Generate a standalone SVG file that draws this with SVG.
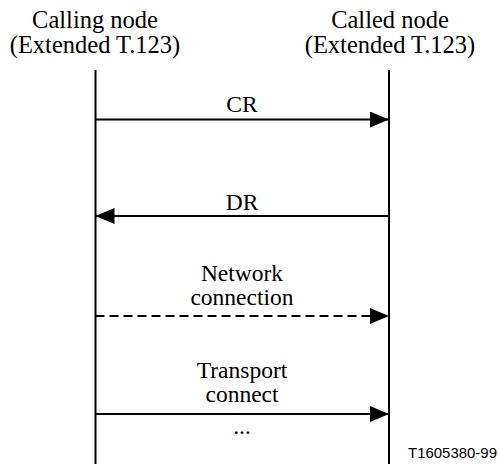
<svg xmlns="http://www.w3.org/2000/svg" width="499" height="464" viewBox="0 0 499 464">
<style>
.t{font-family:"Liberation Serif","Times New Roman",serif;font-size:23.5px;fill:#000;text-anchor:middle}
.h{font-size:24.5px}
.l{stroke:#000;stroke-width:2;fill:none}
.d{stroke-dasharray:9 5}
.id{font-family:"Liberation Sans",Arial,sans-serif;font-size:14px;fill:#000}
</style>
<defs>
<marker id="ah" markerUnits="userSpaceOnUse" markerWidth="19" markerHeight="16" refX="19" refY="8" orient="auto">
<path d="M0,0 L19,8 L0,16 Z" fill="#000"/>
</marker>
</defs>
<g id="calling">
<text class="t h" x="95" y="28">Calling node</text>
<text class="t h" x="95" y="53">(Extended T.123)</text>
<line class="l" x1="95.5" y1="70" x2="95.5" y2="464"/>
</g>
<g id="called">
<text class="t h" x="390" y="28">Called node</text>
<text class="t h" x="390" y="53">(Extended T.123)</text>
<line class="l" x1="389" y1="70" x2="389" y2="464"/>
</g>
<g id="connectors">
<line class="l" x1="95.5" y1="119.5" x2="389" y2="119.5" marker-end="url(#ah)"/>
<line class="l" x1="389" y1="216" x2="95.5" y2="216" marker-end="url(#ah)"/>
<line class="l d" x1="95.5" y1="316" x2="389" y2="316" marker-end="url(#ah)"/>
<line class="l" x1="95.5" y1="414" x2="389" y2="414" marker-end="url(#ah)"/>
</g>
<g id="labels">
<text class="t" x="242" y="112">CR</text>
<text class="t" x="242" y="210">DR</text>
<text class="t" x="242" y="281">Network</text>
<text class="t" x="242" y="305">connection</text>
<text class="t" x="242" y="378">Transport</text>
<text class="t" x="242" y="402">connect</text>
<text class="t" x="242" y="434">...</text>
</g>
<text class="id" x="408" y="458" textLength="89" lengthAdjust="spacingAndGlyphs">T1605380-99</text>
</svg>
